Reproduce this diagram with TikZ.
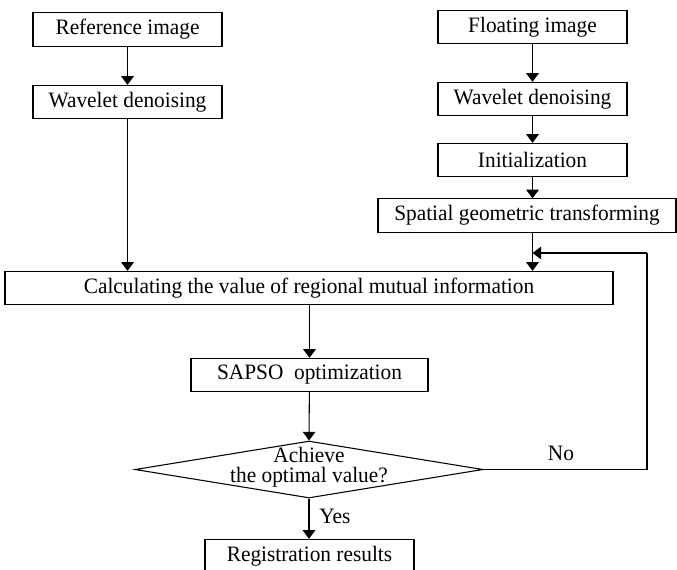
\documentclass[tikz,border=0pt]{standalone}
\usepackage{fontspec}
\setmainfont{Liberation Serif}[FakeStretch=0.97]
\usetikzlibrary{shapes.geometric,arrows.meta}
\begin{document}
\begin{tikzpicture}[x=0.75pt,y=-0.75pt,
  every node/.style={font=\fontsize{16.5pt}{17pt}\selectfont},
  box/.style={draw,line width=0.8pt,inner sep=0pt,minimum height=25pt},
  wbox/.style={box,minimum width=141.75pt},
  arr/.style={draw,line width=0.8pt,-{Triangle[width=9.5pt,length=6.5pt]}},
  ln/.style={draw,line width=0.8pt}]
\useasboundingbox (0,0) rectangle (677,569);
\node[wbox] (ref) at (127.5,29.5) {Reference image};
\node[wbox] (wl) at (127.5,102) {Wavelet denoising};
\node[wbox] (flt) at (532.5,27) {Floating image};
\node[wbox] (wr) at (532.5,99) {Wavelet denoising};
\node[wbox] (init) at (532.5,160) {Initialization};
\node[box,minimum width=223.5pt] (spat) at (527,215.5) {Spatial geometric transforming};
\node[box,minimum width=456pt] (calc) at (309,288) {Calculating the value of regional mutual information};
\node[box,minimum width=177.75pt] (sapso) at (309.5,375) {SAPSO\ \ optimization};
\node[draw,line width=0.8pt,shape=diamond,aspect=6.1,inner sep=0pt,minimum width=261pt,minimum height=42.75pt,
  label={[align=center,yshift=1.5pt,font=\fontsize{16.5pt}{15pt}\selectfont]center:Achieve\\the optimal value?}] (dia) at (309,469.5) {};
\node[box,minimum width=156.75pt] (reg) at (309.5,556) {Registration results};
\coordinate (fb1) at (647,469.5);
\coordinate (fb2) at (647,253);
\coordinate (fe) at (532.5,253);
\draw[arr] (ref) -- (wl);
\draw[arr] (wl) -- (calc.north -| wl.south);
\draw[arr] (flt) -- (wr);
\draw[arr] (wr) -- (init);
\draw[arr] (init) -- (init.south |- spat.north);
\draw[arr] (spat.south -| init.south) -- (calc.north -| init.south);
\draw[arr] (calc.south -| sapso.north) -- (sapso);
\draw[arr] (sapso) -- (dia.north);
\draw[arr] (dia.south) -- node[right=4pt,pos=0.45] (yes) {Yes} (reg.north -| dia.south);
\draw[ln] (dia.east) -- (fb1) -- (fb2);
\draw[arr] (fb2) -- (fe);
\node (no) at (561,453) {No};
\end{tikzpicture}
\end{document}
